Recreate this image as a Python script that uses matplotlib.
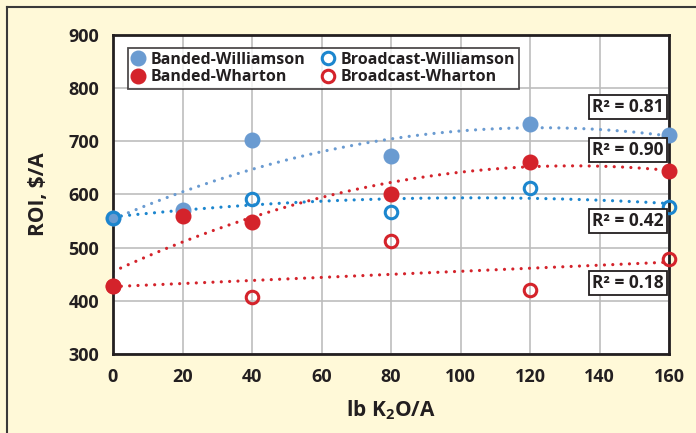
import numpy as np
import matplotlib
matplotlib.use('Agg')
import matplotlib.pyplot as plt
from matplotlib.lines import Line2D

plt.rcParams['font.family'] = ['Open Sans', 'DejaVu Sans']
plt.rcParams['font.weight'] = 'bold'
plt.rcParams['axes.labelweight'] = 'bold'
plt.rcParams['mathtext.fontset'] = 'custom'
plt.rcParams['mathtext.rm'] = 'Open Sans:bold'
plt.rcParams['mathtext.default'] = 'rm'

# data
x_banded = [0, 20, 40, 80, 120, 160]
banded_williamson = [556, 571, 703, 672, 733, 711]
banded_wharton = [428, 559, 548, 601, 662, 645]

x_broadcast = [0, 40, 80, 120, 160]
broadcast_williamson = [556, 592, 568, 613, 577]
broadcast_wharton = [428, 408, 513, 421, 479]

r2_labels = ['0.81', '0.90', '0.42', '0.18']
r2_y = [765, 683, 550, 434]

col_bwil = '#6A9BD1'
col_bcwil = '#1C86CE'
col_red = '#D4232B'
txt = '#231F20'
bg = '#FFF9D8'

fig = plt.figure(figsize=(6.96, 4.33), dpi=100, facecolor=bg)
ax = fig.add_axes([113/696, 1-354/433, (669-113)/696, (354-35)/433])
ax.set_facecolor('white')

# frame lines of the panel (left and top only visible)
fig.add_artist(Line2D([7/696, 7/696], [0, 1-7/433], color='#3a3a3a', lw=1.5, transform=fig.transFigure))
fig.add_artist(Line2D([7/696, 1], [1-7/433, 1-7/433], color='#3a3a3a', lw=1.5, transform=fig.transFigure))

xs = np.linspace(0, 160, 200)
dots = (0, (0.01, 2.6))

def trend(x, y, color, deg=2):
    c = np.polyfit(x, y, deg)
    ax.plot(xs, np.polyval(c, xs), color=color, lw=2.3, linestyle=dots,
            dash_capstyle='round', zorder=2)

trend(x_banded, banded_williamson, col_bwil)
trend(x_banded, banded_wharton, col_red)
trend(x_broadcast, broadcast_williamson, col_bcwil)
trend(x_broadcast, broadcast_wharton, col_red, deg=1)

ax.plot(x_broadcast, broadcast_wharton, 'o', ms=9, mfc='none', mec=col_red, mew=2.2,
        zorder=3, clip_on=False)
h1, = ax.plot(x_banded, banded_williamson, 'o', ms=10.5, color=col_bwil, mec=col_bwil,
              zorder=4, clip_on=False, label='Banded-Williamson')
h2, = ax.plot(x_banded, banded_wharton, 'o', ms=10.5, color=col_red, mec=col_red,
              zorder=5, clip_on=False, label='Banded-Wharton')
h3, = ax.plot(x_broadcast, broadcast_williamson, 'o', ms=9, mfc='none', mec=col_bcwil, mew=2.2,
              zorder=6, clip_on=False, label='Broadcast-Williamson')
h4 = Line2D([], [], marker='o', ls='none', ms=9, mfc='none', mec=col_red, mew=2.2,
            label='Broadcast-Wharton')

for lab, yy in zip(r2_labels, r2_y):
    ax.text(158.5, yy, 'R² = ' + lab, ha='right', va='center', fontsize=12.5,
            color=txt, zorder=7,
            bbox=dict(boxstyle='square,pad=0.18', fc='white', ec=txt, lw=1.3))

ax.set_xlim(0, 160)
ax.set_ylim(300, 900)
ax.set_xticks(np.arange(0, 161, 20))
ax.set_yticks(np.arange(300, 901, 100))
ax.grid(True, color='#BDBDBD', lw=1.2)
ax.set_axisbelow(True)
ax.tick_params(length=0, labelsize=13, labelcolor=txt, pad=10)
for s in ax.spines.values():
    s.set_color(txt)
    s.set_linewidth(2)

ax.set_xlabel('lb K$_2$O/A', fontsize=15, color=txt, labelpad=9)
ax.set_ylabel('ROI, $/A', fontsize=15, color=txt, labelpad=14)

leg = ax.legend(handles=[h1, h2, h3, h4], ncol=2, loc='upper left',
                bbox_to_anchor=(0.012, 0.985), fontsize=11.5, frameon=True,
                fancybox=False, handlelength=0.8, handletextpad=0.4,
                columnspacing=1.0, borderpad=0.25, labelspacing=0.1,
                labelcolor=txt)
leg.get_frame().set_edgecolor(txt)
leg.get_frame().set_linewidth(1.3)

fig.savefig('out.png', dpi=100, facecolor=bg)
